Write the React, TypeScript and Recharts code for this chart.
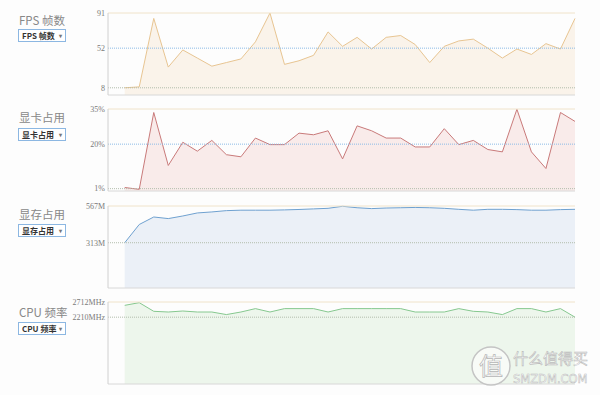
import React from 'react';
import { AreaChart, Area, XAxis, YAxis, ReferenceLine } from 'recharts';

// values, one per sample
const fps = [8, 9, 85, 31, 50, 41, 32, 36, 40, 59, 91, 34, 38, 44, 70, 54, 64, 51, 64, 66, 56, 36, 54, 60, 62, 52, 41, 51, 45, 57, 51, 85];
const gpu = [1.5, 0.7, 33.5, 10.9, 20.8, 17, 21.6, 15.5, 14.6, 22.6, 19.8, 19.8, 24.7, 24, 25.7, 13.7, 27.8, 25.7, 22.6, 22.6, 18.8, 18.8, 26.6, 19.8, 21.6, 17.7, 16.7, 34.9, 16.7, 9.6, 33.5, 29.7];
const mem = [313, 439, 491, 480, 498, 519, 526, 535, 538, 538, 538, 540, 543, 547, 551, 565, 555, 549, 553, 555, 557, 555, 551, 544, 538, 544, 544, 542, 538, 538, 542, 544];
const cpu = [2601, 2690, 2404, 2381, 2414, 2381, 2381, 2296, 2381, 2493, 2381, 2493, 2493, 2493, 2381, 2493, 2493, 2493, 2493, 2493, 2381, 2381, 2381, 2493, 2404, 2381, 2296, 2493, 2493, 2381, 2493, 2210];

const fpsTicks = [8, 52, 91];
const gpuTicks = [1, 20, 35];
const memTicks = [313, 567];
const cpuTicks = [2210, 2712];

const samples = fps.map((_, i) => i);
const rows = samples.map((i) => ({ i, fps: fps[i], gpu: gpu[i], mem: mem[i], cpu: cpu[i] }));

const TAN = '#f0e3ca';
const BLUE_DOT = '#8dbbe6';
const GRAY_DOT = '#b2bdac';

interface PanelProps {
  title: string;
  dataKey: string;
  ticks: number[];
  unit: string;
  stroke: string;
  fill: string;
  plotTop: number;
  titleTop: number;
  boxTop: number;
  midBlue: boolean;
}

const Panel = ({ title, dataKey, ticks, unit, stroke, fill, plotTop, titleTop, boxTop, midBlue }: PanelProps) => {
  const max = ticks[ticks.length - 1];
  const lower = ticks.slice(0, -1);
  return (
    <>
      <div
        style={{
          position: 'absolute',
          left: 19,
          top: titleTop,
          fontFamily: '"Noto Sans CJK SC", "Noto Sans", sans-serif',
          fontSize: 11.5,
          lineHeight: '14px',
          color: '#888',
        }}
      >
        {title}
      </div>
      <div
        style={{
          position: 'absolute',
          left: 18,
          top: boxTop,
          width: 48,
          height: 13,
          boxSizing: 'border-box',
          border: '1px solid #8cb7e2',
          background: '#fff',
          fontFamily: '"Noto Sans CJK SC", "Noto Sans", sans-serif',
          fontSize: 8,
          fontWeight: 'bold',
          lineHeight: '11px',
          color: '#333',
          paddingLeft: 3,
          whiteSpace: 'nowrap',
        }}
      >
        {title}
        <span style={{ position: 'absolute', right: 3, top: 0, fontSize: 6, color: '#777' }}>▾</span>
      </div>
      <div style={{ position: 'absolute', left: 0, top: plotTop - 5 }}>
        <AreaChart width={600} height={90} data={rows} margin={{ top: 5, right: 25, left: 0, bottom: 3 }}>
          <XAxis dataKey="i" type="number" domain={[-1.15, 31]} hide />
          <YAxis
            width={108}
            domain={[0, max]}
            ticks={ticks}
            interval={0}
            tickLine={false}
            tickSize={2}
            tickMargin={1}
            axisLine={{ stroke: '#d0d0d0' }}
            tick={{ fontSize: 8, fill: '#7a7a7a', fontFamily: '"Liberation Serif", serif' }}
            tickFormatter={(v: number) => `${v}${unit}`}
          />
          <Area
            type="linear"
            dataKey={dataKey}
            stroke={stroke}
            strokeWidth={1}
            fill={fill}
            fillOpacity={1}
            dot={false}
            activeDot={false}
            isAnimationActive={false}
          />
          <ReferenceLine y={max} stroke={TAN} strokeWidth={1} />
          {lower.map((v, k) => (
            <ReferenceLine
              key={v}
              y={v}
              stroke={midBlue && k === lower.length - 1 ? BLUE_DOT : GRAY_DOT}
              strokeDasharray="1 1"
              strokeWidth={1}
            />
          ))}
          <ReferenceLine y={0} stroke="#d8d8d8" strokeWidth={1} />
        </AreaChart>
      </div>
    </>
  );
};

const Watermark = () => (
  <svg width={600} height={395} style={{ position: 'absolute', left: 0, top: 0, pointerEvents: 'none' }}>
    <circle cx={491} cy={366} r={19} fill="rgba(255,255,255,0.6)" stroke="#c4c4c4" strokeWidth={1.5} />
    <text x={491} y={375} textAnchor="middle" fontSize={24} fill="#fff" stroke="#b4b4b4" strokeWidth={0.7} fontFamily='"Noto Sans CJK SC", sans-serif'>
      值
    </text>
    <text x={513} y={364} fontSize={15} fill="#fff" stroke="#bababa" strokeWidth={0.6} fontFamily='"Noto Sans CJK SC", sans-serif'>
      什么值得买
    </text>
    <text x={513} y={383} fontSize={11.5} fill="#fff" stroke="#bababa" strokeWidth={0.5} fontFamily='"DejaVu Sans", sans-serif'>
      SMZDM.COM
    </text>
  </svg>
);

const App = () => (
  <div style={{ position: 'absolute', left: 0, top: 0, width: 600, height: 395, background: '#fdfdfd', overflow: 'hidden' }}>
    <Panel title="FPS 帧数" dataKey="fps" ticks={fpsTicks} unit="" stroke="#e8c592" fill="#faf3ea" plotTop={13} titleTop={13} boxTop={29} midBlue />
    <Panel title="显卡占用" dataKey="gpu" ticks={gpuTicks} unit="%" stroke="#c97a7a" fill="#f9ebea" plotTop={109} titleTop={110} boxTop={128} midBlue />
    <Panel title="显存占用" dataKey="mem" ticks={memTicks} unit="M" stroke="#6fa1d0" fill="#ebf0f7" plotTop={206} titleTop={207} boxTop={224} midBlue={false} />
    <Panel title="CPU 频率" dataKey="cpu" ticks={cpuTicks} unit="MHz" stroke="#86c88f" fill="#edf6ec" plotTop={302} titleTop={305} boxTop={322} midBlue={false} />
    <Watermark />
  </div>
);

export default App;
